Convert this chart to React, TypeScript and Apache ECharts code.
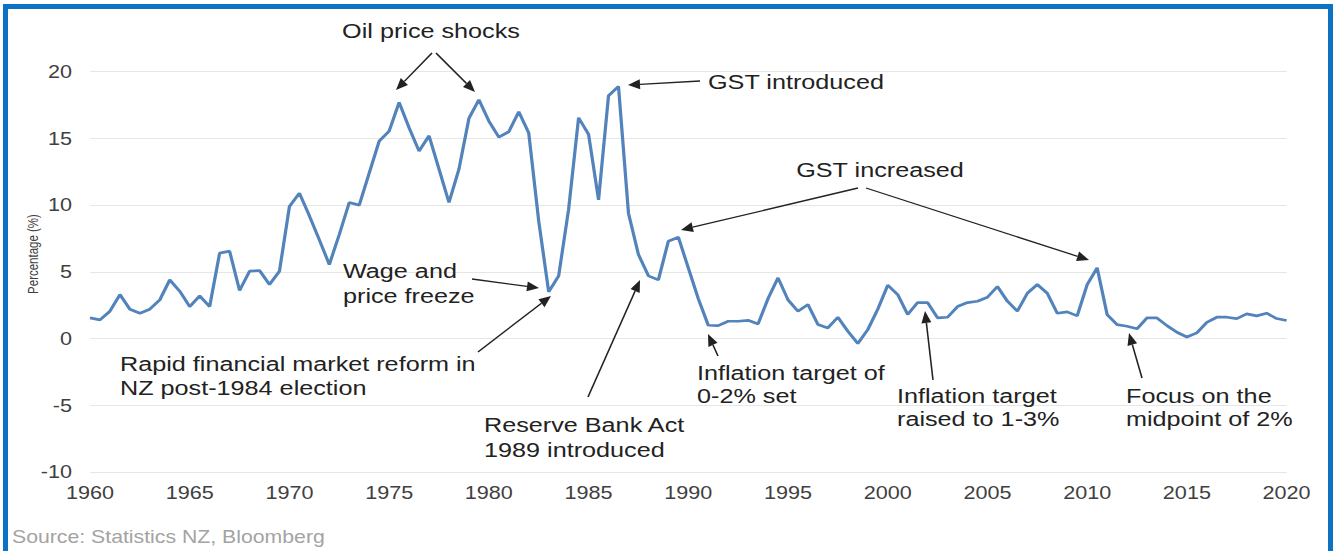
import React, { useEffect, useRef } from "react";
import * as echarts from "echarts";

// ---- data ----
const START_YEAR = 1960;
// Annual CPI inflation (%), half-yearly readings, 1960 to 2020
const inflation = [
  // 1960-1964.5
  1.55, 1.4, 2.05, 3.3, 2.2, 1.9, 2.2, 2.9, 4.4, 3.55,
  // 1965-1969.5
  2.4, 3.2, 2.4, 6.4, 6.55, 3.6, 5.05, 5.1, 4.05, 5.05,
  // 1970-1974.5
  9.9, 10.9, 9.2, 7.4, 5.55, 7.8, 10.2, 10.0, 12.4, 14.8,
  // 1975-1979.5
  15.55, 17.7, 15.8, 14.05, 15.2, 12.7, 10.2, 12.7, 16.5, 17.9,
  // 1980-1984.5
  16.3, 15.1, 15.5, 17.0, 15.4, 8.8, 3.5, 4.7, 9.7, 16.55,
  // 1985-1989.5
  15.3, 10.4, 18.2, 18.9, 9.4, 6.3, 4.7, 4.4, 7.3, 7.6,
  // 1990-1994.5
  5.3, 3.0, 1.0, 0.97, 1.3, 1.3, 1.37, 1.1, 3.0, 4.55,
  // 1995-1999.5
  2.9, 2.05, 2.55, 1.05, 0.8, 1.6, 0.55, -0.37, 0.67, 2.2,
  // 2000-2004.5
  4.0, 3.3, 1.8, 2.7, 2.7, 1.55, 1.6, 2.4, 2.7, 2.8,
  // 2005-2009.5
  3.1, 3.9, 2.8, 2.05, 3.4, 4.05, 3.4, 1.9, 2.0, 1.7,
  // 2010-2014.5
  4.05, 5.3, 1.8, 1.05, 0.92, 0.73, 1.55, 1.55, 0.97, 0.47,
  // 2015-2019.5
  0.12, 0.43, 1.22, 1.6, 1.6, 1.5, 1.85, 1.7, 1.9, 1.5,
  // 2020
  1.35,
];
const periods = inflation.map((_, i) => START_YEAR + i * 0.5);

const xMin = 1960;
const xMax = 2020;
const xStep = 5;
const yMin = -10;
const yMax = 25;
const yStep = 5;

const yAxisTitle = "Percentage (%)";
const sourceNote = "Source: Statistics NZ, Bloomberg";

// annotation texts
const annOil = ["Oil price shocks"];
const annGstIntro = ["GST introduced"];
const annGstInc = ["GST increased"];
const annWage = ["Wage and", "price freeze"];
const annRapid = ["Rapid financial market reform in", "NZ post-1984 election"];
const annRBA = ["Reserve Bank Act", "1989 introduced"];
const annTarget02 = ["Inflation target of", "0-2% set"];
const annTarget13 = ["Inflation target", "raised to 1-3%"];
const annFocus = ["Focus on the", "midpoint of 2%"];

// ---- layout ----
const W = 1336;
const H = 551;
const K = 1.2; // horizontal stretch of the reference picture
const CW = W / K;
const FONT = '"Liberation Sans", Arial, sans-serif';
const LINE_COLOR = "#5283BA";
const ANN_COLOR = "#222222";

function textLines(lines: string[], x: number, y: number, align: string, lh = 24) {
  return lines.map((t, i) => ({
    type: "text",
    x: x / K,
    y: y + i * lh,
    z: 20,
    style: {
      text: t,
      fontSize: 21,
      fontFamily: FONT,
      fill: ANN_COLOR,
      align,
      verticalAlign: "middle",
    },
  }));
}

function arrow(x1: number, y1: number, x2: number, y2: number) {
  const dx = x2 - x1;
  const dy = y2 - y1;
  const len = Math.sqrt(dx * dx + dy * dy);
  const ux = dx / len;
  const uy = dy / len;
  const L = 12;
  const hw = 5;
  const bx = x2 - ux * L;
  const by = y2 - uy * L;
  const nx = -uy;
  const ny = ux;
  return [
    {
      type: "line",
      z: 20,
      shape: { x1: x1 / K, y1, x2: bx / K, y2: by },
      style: { stroke: ANN_COLOR, lineWidth: 1.3 },
    },
    {
      type: "polygon",
      z: 20,
      shape: {
        points: [
          [x2 / K, y2],
          [(bx + nx * hw) / K, by + ny * hw],
          [(bx - nx * hw) / K, by - ny * hw],
        ],
      },
      style: { fill: ANN_COLOR },
    },
  ];
}

export default function App() {
  const ref = useRef<HTMLDivElement>(null);
  useEffect(() => {
    if (!ref.current) return;
    const chart = echarts.init(ref.current, null, { renderer: "svg" });
    const graphics: any[] = [
      ...textLines(annOil, 431, 31, "center"),
      ...arrow(432, 53, 396, 90),
      ...arrow(436, 53, 475, 92),
      ...textLines(annGstIntro, 708, 82, "left"),
      ...arrow(700, 81, 628, 85),
      ...textLines(annGstInc, 880, 170, "center"),
      ...arrow(858, 188, 681, 230),
      ...arrow(866, 188, 1089, 260),
      ...textLines(annWage, 343, 271, "left", 25),
      ...arrow(472, 279, 539, 288),
      ...textLines(annRapid, 120, 364, "left"),
      ...arrow(478, 352, 551, 296),
      ...textLines(annRBA, 484, 425, "left", 25),
      ...arrow(588, 397, 640, 280),
      ...textLines(annTarget02, 697, 373, "left", 23),
      ...arrow(718, 356, 708, 334),
      ...textLines(annTarget13, 897, 396, "left", 23),
      ...arrow(933, 380, 925, 311),
      ...textLines(annFocus, 1126, 396, "left", 23),
      ...arrow(1142, 378, 1129, 333),
      {
        type: "text",
        x: 34 / K,
        y: 254,
        rotation: Math.PI / 2,
        style: {
          text: yAxisTitle,
          fontSize: 11.5,
          fontFamily: FONT,
          fill: "#404040",
          align: "center",
          verticalAlign: "middle",
        },
      },
      {
        type: "text",
        x: 12 / K,
        y: 537,
        style: {
          text: sourceNote,
          fontSize: 17.7,
          fontFamily: FONT,
          fill: "#A3A3A3",
          align: "left",
          verticalAlign: "middle",
        },
      },
    ];
    chart.setOption({
      animation: false,
      backgroundColor: "#ffffff",
      grid: {
        left: 90 / K,
        right: CW - 1287 / K,
        top: 5,
        bottom: H - 472,
        containLabel: false,
      },
      xAxis: {
        type: "value",
        min: xMin,
        max: xMax,
        interval: xStep,
        axisLine: { show: false },
        axisTick: { show: false },
        splitLine: { show: false },
        axisLabel: {
          color: "#404040",
          fontSize: 18,
          fontFamily: FONT,
          margin: 12,
          formatter: (v: number) => String(v),
        },
      },
      yAxis: {
        type: "value",
        min: yMin,
        max: yMax,
        interval: yStep,
        axisLine: { show: false },
        axisTick: { show: false },
        splitLine: { lineStyle: { color: "#E6E6E6", width: 1 } },
        axisLabel: {
          color: "#404040",
          fontSize: 18,
          fontFamily: FONT,
          margin: 15,
          formatter: (v: number) => (v === yMax ? "" : String(v)),
        },
      },
      series: [
        {
          type: "line",
          data: periods.map((p, i) => [p, inflation[i]]),
          symbol: "none",
          lineStyle: { color: LINE_COLOR, width: 2.7 },
          z: 5,
        },
      ],
      graphic: graphics,
    });
    return () => chart.dispose();
  }, []);

  return (
    <div
      style={{
        position: "fixed",
        left: 0,
        top: 0,
        width: W,
        height: H,
        overflow: "hidden",
        background: "#ffffff",
      }}
    >
      <div
        ref={ref}
        style={{
          width: CW,
          height: H,
          transform: `scaleX(${K})`,
          transformOrigin: "0 0",
        }}
      />
      <div
        style={{
          position: "absolute",
          left: 3,
          top: 4,
          width: 1330,
          height: 620,
          border: "5px solid #0B72C4",
          borderBottom: "none",
          boxSizing: "border-box",
          pointerEvents: "none",
        }}
      />
    </div>
  );
}
